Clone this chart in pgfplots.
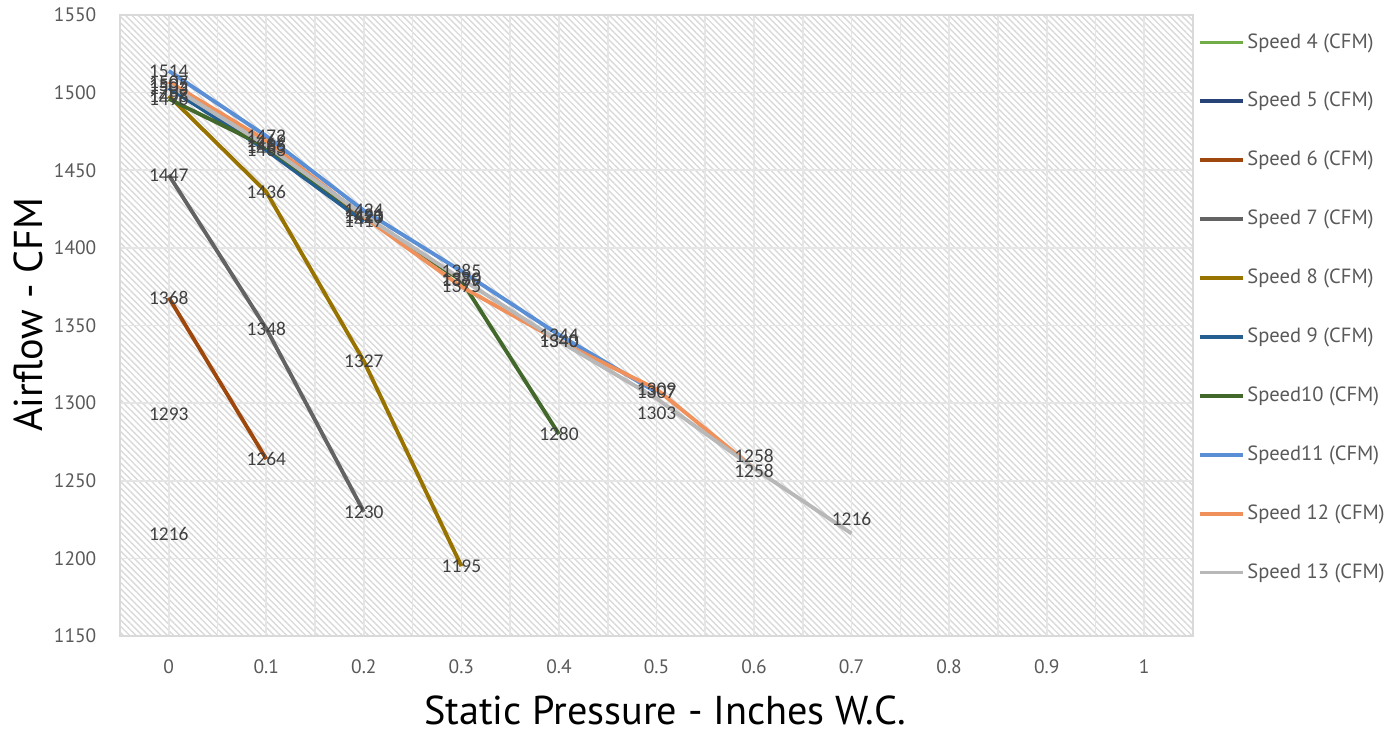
\documentclass[border=0pt]{standalone}
\usepackage{fontspec}
\setmainfont{PT Sans}
\newfontfamily\lblfont{Carlito}
\usepackage{pgfplots}
\pgfplotsset{compat=1.18}
\usetikzlibrary{patterns.meta}
\definecolor{sfour}{HTML}{70AD47}
\definecolor{sfive}{HTML}{264478}
\definecolor{ssix}{HTML}{9E480E}
\definecolor{sseven}{HTML}{636363}
\definecolor{seight}{HTML}{997300}
\definecolor{snine}{HTML}{255E91}
\definecolor{sten}{HTML}{43682B}
\definecolor{seleven}{HTML}{5B8FD5}
\definecolor{stwelve}{HTML}{F0905A}
\definecolor{sthirteen}{HTML}{B8B8B8}
\definecolor{ticktext}{HTML}{595959}
\definecolor{lbltext}{HTML}{404040}
\pgfplotstableread{
x y dy
0 1507 0
0.1 1469 0
0.2 1420 0
0.3 1375 0
0.4 1340 0
0.5 1309 0
0.6 1258 4.3
}\stwelvedata
\pgfplotstableread{
x y dy
0 1505 0
0.1 1466 0
0.2 1421 0
0.3 1380 0
0.4 1340 0
0.5 1303 -5.4
0.6 1258 -1
0.7 1216 5.4
}\sthirteendata
\begin{document}
\begin{tikzpicture}
\begin{axis}[
  name=ax,
  scale only axis,
  width=386.28pt, height=223.56pt,
  xmin=-0.05, xmax=1.05, ymin=1150, ymax=1550,
  xtick={0,0.1,0.2,0.3,0.4,0.5,0.6,0.7,0.8,0.9,1},
  xticklabels={0,0.1,0.2,0.3,0.4,0.5,0.6,0.7,0.8,0.9,1},
  minor xtick={0.05,0.15,0.25,0.35,0.45,0.55,0.65,0.75,0.85,0.95},
  ytick={1150,1200,1250,1300,1350,1400,1450,1500,1550},
  /pgf/number format/1000 sep={},
  /pgf/number format/assume math mode=true,
  grid=both,
  major grid style={black!10, line width=0.6pt},
  minor grid style={black!10, line width=0.6pt},
  tick style={draw=none},
  axis line style={black!15, line width=0.6pt},
  axis background/.style={pattern={Lines[angle=-45,distance=1.6pt,line width=0.5pt]}, pattern color=black!15},
  tick label style={font=\fontsize{7}{8}\selectfont, text=ticktext},
  xticklabel style={yshift=-4.8pt},
  yticklabel style={xshift=-5pt},
  xlabel={Static Pressure - Inches W.C.},
  ylabel={Airflow - CFM},
  xlabel style={at={([yshift=-26.6pt]axis description cs:0.508,0)}, anchor=center, font=\fontsize{14.5}{16}\selectfont},
  ylabel style={at={([xshift=-33.1pt]axis description cs:0,0.517)}, anchor=center, font=\fontsize{14.5}{16}\selectfont},
  legend style={at={(1,1)}, anchor=north west, xshift=1.5pt, yshift=-4.7pt, draw=none, fill=none, inner sep=0pt,
    row sep=11.2pt, font=\fontsize{7.4}{8.5}\selectfont, text=ticktext,
    nodes={inner sep=1pt, text height=6pt, text depth=2pt},
    /tikz/every even column/.append style={column sep=0pt}},
  legend cell align=left,
  legend image code/.code={\draw[#1, line width=1.4pt] (0pt,0pt) -- (15.5pt,0pt);},
  every axis plot/.append style={line width=1.4pt, no markers},
  nodes near coords,
  every node near coord/.append style={anchor=center, font=\lblfont\fontsize{7}{8}\selectfont, text=lbltext},
]
\addplot[sfour] coordinates {(0,1293)};
\addlegendentry{Speed 4 (CFM)}
\addplot[sfive] coordinates {(0,1216)};
\addlegendentry{Speed 5 (CFM)}
\addplot[ssix] coordinates {(0,1368) (0.1,1264)};
\addlegendentry{Speed 6 (CFM)}
\addplot[sseven] coordinates {(0,1447) (0.1,1348) (0.2,1230)};
\addlegendentry{Speed 7 (CFM)}
\addplot[seight] coordinates {(0,1498) (0.1,1436) (0.2,1327) (0.3,1195)};
\addlegendentry{Speed 8 (CFM)}
\addplot[snine] coordinates {(0,1503) (0.1,1463) (0.2,1417)};
\addlegendentry{Speed 9 (CFM)}
\addplot[sten] coordinates {(0,1496) (0.1,1465) (0.2,1420) (0.3,1379) (0.4,1280)};
\addlegendentry{Speed10 (CFM)}
\addplot[seleven] coordinates {(0,1514) (0.1,1472) (0.2,1424) (0.3,1385) (0.4,1344) (0.5,1307)};
\addlegendentry{Speed11 (CFM)}
\addplot[stwelve, visualization depends on={\thisrow{dy} \as \dy}, every node near coord/.append style={yshift=\dy pt}] table[x=x, y=y] {\stwelvedata};
\addlegendentry{Speed 12 (CFM)}
\addplot[sthirteen, visualization depends on={\thisrow{dy} \as \dy}, every node near coord/.append style={yshift=\dy pt}] table[x=x, y=y] {\sthirteendata};
\addlegendentry{Speed 13 (CFM)}
\end{axis}
\pgfresetboundingbox
\path[use as bounding box] ([shift={(-43.2pt,-34.56pt)}]ax.south west) rectangle ([shift={(73.08pt,5.4pt)}]ax.north east);
\end{tikzpicture}
\end{document}
